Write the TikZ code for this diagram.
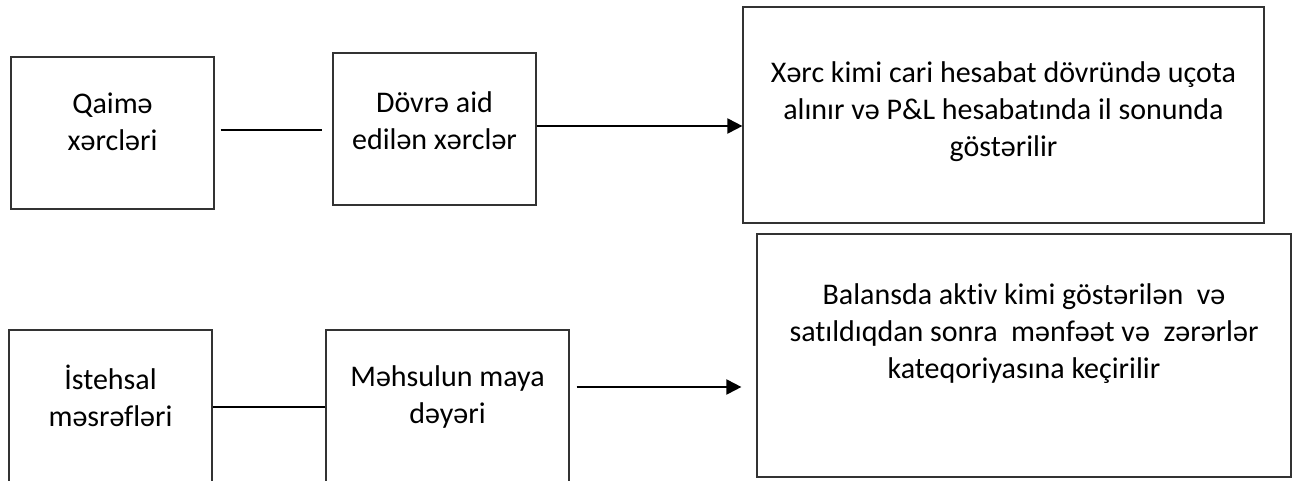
\documentclass[tikz,border=0pt]{standalone}
\usepackage{fontspec}
\setmainfont{Carlito}[Ligatures=NoCommon]
\usetikzlibrary{arrows.meta,calc}
\begin{document}
\begin{tikzpicture}[x=1pt,y=-1pt,
  box/.style={draw=black!80,line width=1.2pt,rectangle,inner sep=0pt},
  lbl/.style={align=center,font=\fontsize{30}{37}\selectfont,inner sep=0pt},
  conn/.style={draw=black,line width=2pt},
  arr/.style={conn,-{Triangle[length=15pt,width=15pt]}}]
\useasboundingbox (0,0) rectangle (1298,480);
\clip (0,0) rectangle (1298,480);
% boxes
\node[box,minimum width=203pt,minimum height=152pt] (A) at (112.5,133) {};
\node[box,minimum width=203pt,minimum height=152pt] (B) at (434.5,129) {};
\node[box,minimum width=521pt,minimum height=216pt] (C) at (1003.5,115) {};
\node[box,minimum width=203pt,minimum height=160pt] (D) at (110.5,410) {};
\node[box,minimum width=243pt,minimum height=160pt] (E) at (447.5,410) {};
\node[box,minimum width=534pt,minimum height=243pt] (F) at (1024,355.5) {};
% texts
\node[lbl] (tA) at (112.5,122) {Qaimə\\xərcləri};
\node[lbl] (tB) at (434.5,120.5) {Dövrə aid\\edilən xərclər};
\node[lbl] (tC) at (1003.5,112) {Xərc kimi cari hesabat dövründə uçota\\alınır və P\&L hesabatında il sonunda\\göstərilir};
\node[lbl] (tD) at (110.5,396) {İstehsal\\məsrəfləri};
\node[lbl] (tE) at (447.5,397) {Məhsulun maya\\dəyəri};
\node[lbl] (tF) at (1024,334) {Balansda aktiv kimi göstərilən\ \ və\\satıldıqdan sonra\ \ mənfəət və\ \ zərərlər\\kateqoriyasına keçirilir};
% connectors
\draw[conn,shorten <=6pt,shorten >=10pt] ([yshift=3pt]A.east) -- ([yshift=3pt]A.east -| B.west);
\draw[arr] ([yshift=3pt]B.east) -- ([yshift=3pt]B.east -| C.west);
\draw[conn] ([yshift=3pt]D.east) -- ([yshift=3pt]D.east -| E.west);
\draw[arr,shorten <=7pt,shorten >=15pt] ([yshift=23pt]E.east) -- ([yshift=23pt]E.east -| F.west);
\end{tikzpicture}
\end{document}
